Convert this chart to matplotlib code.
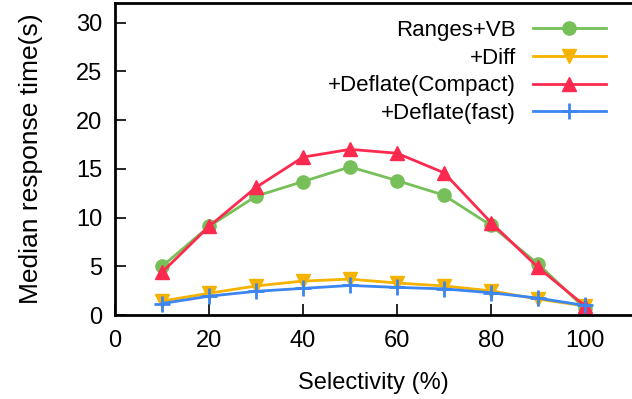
import matplotlib
matplotlib.use("Agg")
import matplotlib.pyplot as plt

selectivity = [10, 20, 30, 40, 50, 60, 70, 80, 90, 100]
ranges_vb = [5.0, 9.1, 12.2, 13.7, 15.2, 13.8, 12.3, 9.2, 5.25, 0.7]
diff = [1.45, 2.25, 3.0, 3.5, 3.7, 3.3, 3.0, 2.5, 1.65, 0.95]
deflate_compact = [4.4, 9.1, 13.1, 16.2, 17.0, 16.6, 14.6, 9.5, 4.9, 0.95]
deflate_fast = [1.2, 1.95, 2.45, 2.75, 3.05, 2.85, 2.7, 2.3, 1.75, 1.0]

plt.rcParams['font.family'] = ['Liberation Sans', 'DejaVu Sans']

fig = plt.figure(figsize=(6.32, 3.99), dpi=100)
ax = fig.add_axes([0.182, 0.21, 0.818, 0.7825])

ax.plot(selectivity, ranges_vb, marker='o', ms=9.5, lw=2, color='#77bf58', label='Ranges+VB')
ax.plot(selectivity, diff, marker='v', ms=9.5, lw=2, color='#f5b300', label='+Diff')
ax.plot(selectivity, deflate_compact, marker='^', ms=9.5, lw=2, color='#fb2a4e', label='+Deflate(Compact)')
ax.plot(selectivity, deflate_fast, marker='+', ms=12, mew=2, lw=2, color='#3b86f2', label='+Deflate(fast)')

ax.set_xlim(0, 110)
ax.set_ylim(0, 32)
ax.set_xticks([0, 20, 40, 60, 80, 100])
ax.set_yticks([0, 5, 10, 15, 20, 25, 30])
ax.tick_params(direction='in', length=8, width=1.2, labelsize=17, pad=9)
ax.tick_params(axis='x', pad=11)
for s in ['left', 'bottom', 'top']:
    ax.spines[s].set_linewidth(2)
ax.spines['right'].set_visible(False)

ax.set_xlabel('Selectivity (%)', fontsize=17, labelpad=14)
ax.set_ylabel('Median response time(s)', fontsize=19, labelpad=24)

ax.legend(loc='upper right', bbox_to_anchor=(0.95, 0.945), frameon=False, markerfirst=False,
          fontsize=16, handlelength=3.3, labelspacing=0.3, handletextpad=0.75,
          borderaxespad=0, borderpad=0)

fig.savefig('out.png', dpi=100)
